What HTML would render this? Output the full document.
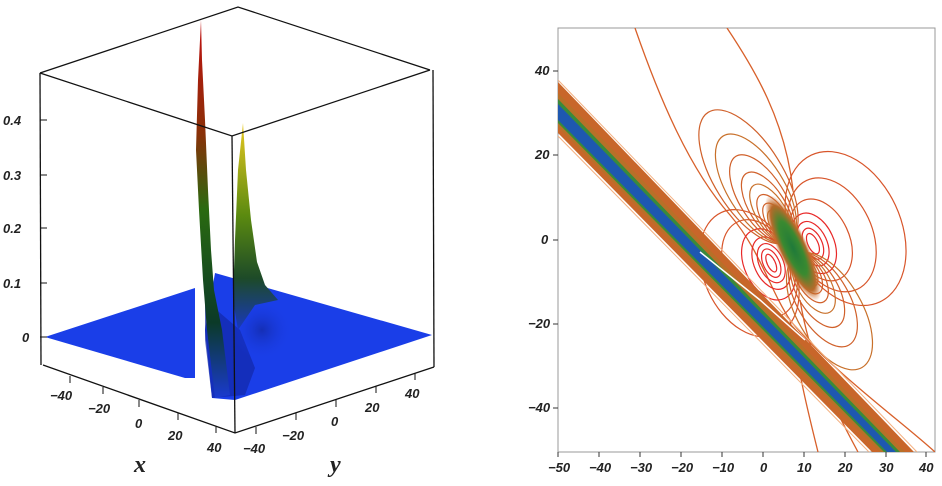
<!DOCTYPE html>
<html><head><style>
body{margin:0;background:#fff;width:942px;height:486px;overflow:hidden}
svg{position:absolute;left:0;top:0}
text{font-family:"Liberation Sans",sans-serif;font-weight:bold;font-style:italic;font-size:13px;fill:#222}
</style></head><body>
<svg id="s" width="942" height="486" viewBox="0 0 942 486">
<defs>
<linearGradient id="p1" x1="0" y1="1" x2="0" y2="0">
<stop offset="0" stop-color="#1a3ad0"/><stop offset="0.2" stop-color="#0b3a28"/><stop offset="0.5" stop-color="#2a6a10"/><stop offset="0.7" stop-color="#8a3008"/><stop offset="1" stop-color="#c01010"/></linearGradient>
<linearGradient id="p2" x1="0" y1="1" x2="0" y2="0">
<stop offset="0" stop-color="#1838c0"/><stop offset="0.25" stop-color="#1d4a28"/><stop offset="0.55" stop-color="#5a8a10"/><stop offset="1" stop-color="#e8c820"/></linearGradient>
<radialGradient id="core" cx="0.5" cy="0.5" r="0.5">
<stop offset="0" stop-color="#1f7a3a"/><stop offset="0.5" stop-color="#3a8a30"/><stop offset="0.8" stop-color="#b86a2a"/><stop offset="1" stop-color="#d87030" stop-opacity="0"/></radialGradient>
<radialGradient id="dk" cx="0.5" cy="0.5" r="0.5">
<stop offset="0" stop-color="#1228a0" stop-opacity="0.7"/><stop offset="1" stop-color="#1a3ee8" stop-opacity="0"/></radialGradient>
<clipPath id="c"><rect x="558" y="28" width="377" height="424"/></clipPath>
</defs>
<g stroke="#111" stroke-width="1.3" fill="none">
<polyline points="40,73 238,7 430,70"/>
</g>
<polygon points="45,337 195,288 195,378 185,378" fill="#1a3ee8"/>
<polygon points="215,273 432,335 235,400 212,398 205,330" fill="#1a3ee8"/>
<polygon points="205,300 240,330 255,368 245,395 212,398 205,340" fill="#1228a8" opacity="0.7"/>
<ellipse cx="262" cy="330" rx="30" ry="30" fill="url(#dk)"/>
<polygon points="201,20 202,60 205,120 208,190 211,250 214,290 218,310 222,330 230,395 215,398 207,330 203,280 199,210 196,150 198,80" fill="url(#p1)"/>
<polygon points="243,123 246,170 251,220 257,262 265,285 278,300 255,305 238,330 233,300 235,240 238,170" fill="url(#p2)"/>
<g stroke="#111" stroke-width="1.3" fill="none">
<polyline points="40,73 232,136 430,70"/>
<line x1="40" y1="73" x2="41" y2="365"/>
<line x1="232" y1="136" x2="235" y2="433"/>
<line x1="433" y1="70" x2="434" y2="367"/>
<polyline points="43,365 235,433 434,367"/>
</g>
<g stroke="#111" stroke-width="1">
<line x1="40" y1="120" x2="47" y2="120"/><line x1="40" y1="175" x2="47" y2="175"/><line x1="40" y1="228" x2="47" y2="228"/><line x1="40" y1="283" x2="47" y2="283"/><line x1="40" y1="337" x2="47" y2="337"/>
<line x1="70" y1="376" x2="70" y2="383"/><line x1="103" y1="387" x2="103" y2="394"/><line x1="139" y1="400" x2="139" y2="407"/><line x1="178" y1="413" x2="178" y2="420"/><line x1="216" y1="426" x2="216" y2="433"/>
<line x1="256" y1="427" x2="256" y2="434"/><line x1="296" y1="413" x2="296" y2="420"/><line x1="336" y1="400" x2="336" y2="407"/><line x1="376" y1="386" x2="376" y2="393"/><line x1="415" y1="373" x2="415" y2="380"/>
</g>
<text x="3" y="125">0.4</text><text x="3" y="180">0.3</text><text x="3" y="233">0.2</text><text x="3" y="288">0.1</text><text x="22" y="342">0</text>
<text x="50" y="400">−40</text><text x="88" y="413">−20</text><text x="135" y="428">0</text><text x="168" y="440">20</text><text x="207" y="452">40</text>
<text x="243" y="453">−40</text><text x="282" y="440">−20</text><text x="331" y="426">0</text><text x="365" y="412">20</text><text x="405" y="398">40</text>
<text x="134" y="472" style="font-family:'Liberation Serif',serif;font-size:24px">x</text>
<text x="330" y="472" style="font-family:'Liberation Serif',serif;font-size:24px">y</text>

<rect x="558" y="28" width="377" height="424" fill="none" stroke="#999" stroke-width="1"/>
<g clip-path="url(#c)">
<g stroke="#d8602a" stroke-width="1.3" fill="none">
<path d="M635,28 C660,100 690,170 730,215 C760,250 770,290 790,320 C830,370 900,420 935,452"/>
<path d="M727,28 C755,70 785,120 793,190"/>
<path d="M800,300 C810,360 830,400 858,452"/>
<path d="M790,320 C800,380 810,420 818,452"/>
</g>
<g id="cont" fill="none" stroke-width="1.2"></g>
<ellipse cx="793" cy="248" rx="15" ry="58" transform="rotate(-25 793 248)" fill="url(#core)"/>
<polygon points="558,82 914,452 872,452 558,133" fill="#c8662a"/>
<polygon points="558,93 905,452 880,452 558,127" fill="#b87028"/>
<polygon points="558,99 900,452 884,452 558,123" fill="#3a8a3a"/>
<polygon points="558,104 896,452 887,452 558,120" fill="#1e58b0"/>
<polyline points="700,252 760,300 805,340" stroke="#fff" stroke-width="1.5" fill="none"/>
<g stroke="#f4b080" stroke-width="1" fill="none">
<line x1="558" y1="80" x2="917" y2="452"/><line x1="558" y1="136" x2="869" y2="452"/>
</g>
</g>
<g stroke="#333" stroke-width="1">
<line x1="558" y1="452" x2="558" y2="457"/><line x1="599" y1="452" x2="599" y2="457"/><line x1="640" y1="452" x2="640" y2="457"/><line x1="681" y1="452" x2="681" y2="457"/><line x1="722" y1="452" x2="722" y2="457"/><line x1="763" y1="452" x2="763" y2="457"/><line x1="804" y1="452" x2="804" y2="457"/><line x1="845" y1="452" x2="845" y2="457"/><line x1="886" y1="452" x2="886" y2="457"/><line x1="926" y1="452" x2="926" y2="457"/>
<line x1="553" y1="71" x2="558" y2="71"/><line x1="553" y1="155" x2="558" y2="155"/><line x1="553" y1="240" x2="558" y2="240"/><line x1="553" y1="324" x2="558" y2="324"/><line x1="553" y1="408" x2="558" y2="408"/>
</g>
<g style="font-size:11px">
<text x="548" y="472">−50</text><text x="589" y="472">−40</text><text x="630" y="472">−30</text><text x="671" y="472">−20</text><text x="712" y="472">−10</text><text x="760" y="472">0</text><text x="797" y="472">10</text><text x="838" y="472">20</text><text x="879" y="472">30</text><text x="919" y="472">40</text>
<text x="535" y="75">40</text><text x="535" y="159">20</text><text x="541" y="244">0</text><text x="528" y="328">−20</text><text x="528" y="412">−40</text>
</g>
</svg>
<script>
(function(){
var g=document.getElementById('cont'),C=[793,248];
function el(cx,cy,rx,ry,rot,col){
 var e=document.createElementNS('http://www.w3.org/2000/svg','ellipse');
 e.setAttribute('cx',cx);e.setAttribute('cy',cy);e.setAttribute('rx',rx);e.setAttribute('ry',ry);
 e.setAttribute('transform','rotate('+rot+' '+cx+' '+cy+')');e.setAttribute('stroke',col);g.appendChild(e);}
function dirs(dg){var a=dg*Math.PI/180;return {u:[-Math.sin(a),Math.cos(a)],v:[Math.cos(a),Math.sin(a)]};}
function lobe(sign,sizes,off,dg){
 var d0=dirs(dg);
 sizes.forEach(function(s){
  var d=Math.max(off,s+3)*sign;
  var col=s<25?'#e82828':'#d8552a';
  el(C[0]+d0.v[0]*d,C[1]+d0.v[1]*d+5,s,s*1.4+4,dg,col);
 });}
lobe(1,[5,9,14,20,28,40,55],22,-25);
lobe(-1,[4,8,12,17,24,34,45],24,-25);
function fam(sign,sizes,ratio,dg){
 var d0=dirs(dg);
 sizes.forEach(function(s,i){
  var d=(s+8)*sign;
  var col=i%3==0?'#c8702a':'#d0602a';
  el(C[0]+d0.u[0]*d,C[1]+d0.u[1]*d,s*ratio,s,dg,col);
 });}
fam(-1,[8,11,14,18,22,27,33,40,50,62,76],0.45,-32);
fam(1,[8,11,14,18,22,27,33,41,52,65],0.5,-30);
})();
</script>
</body></html>
